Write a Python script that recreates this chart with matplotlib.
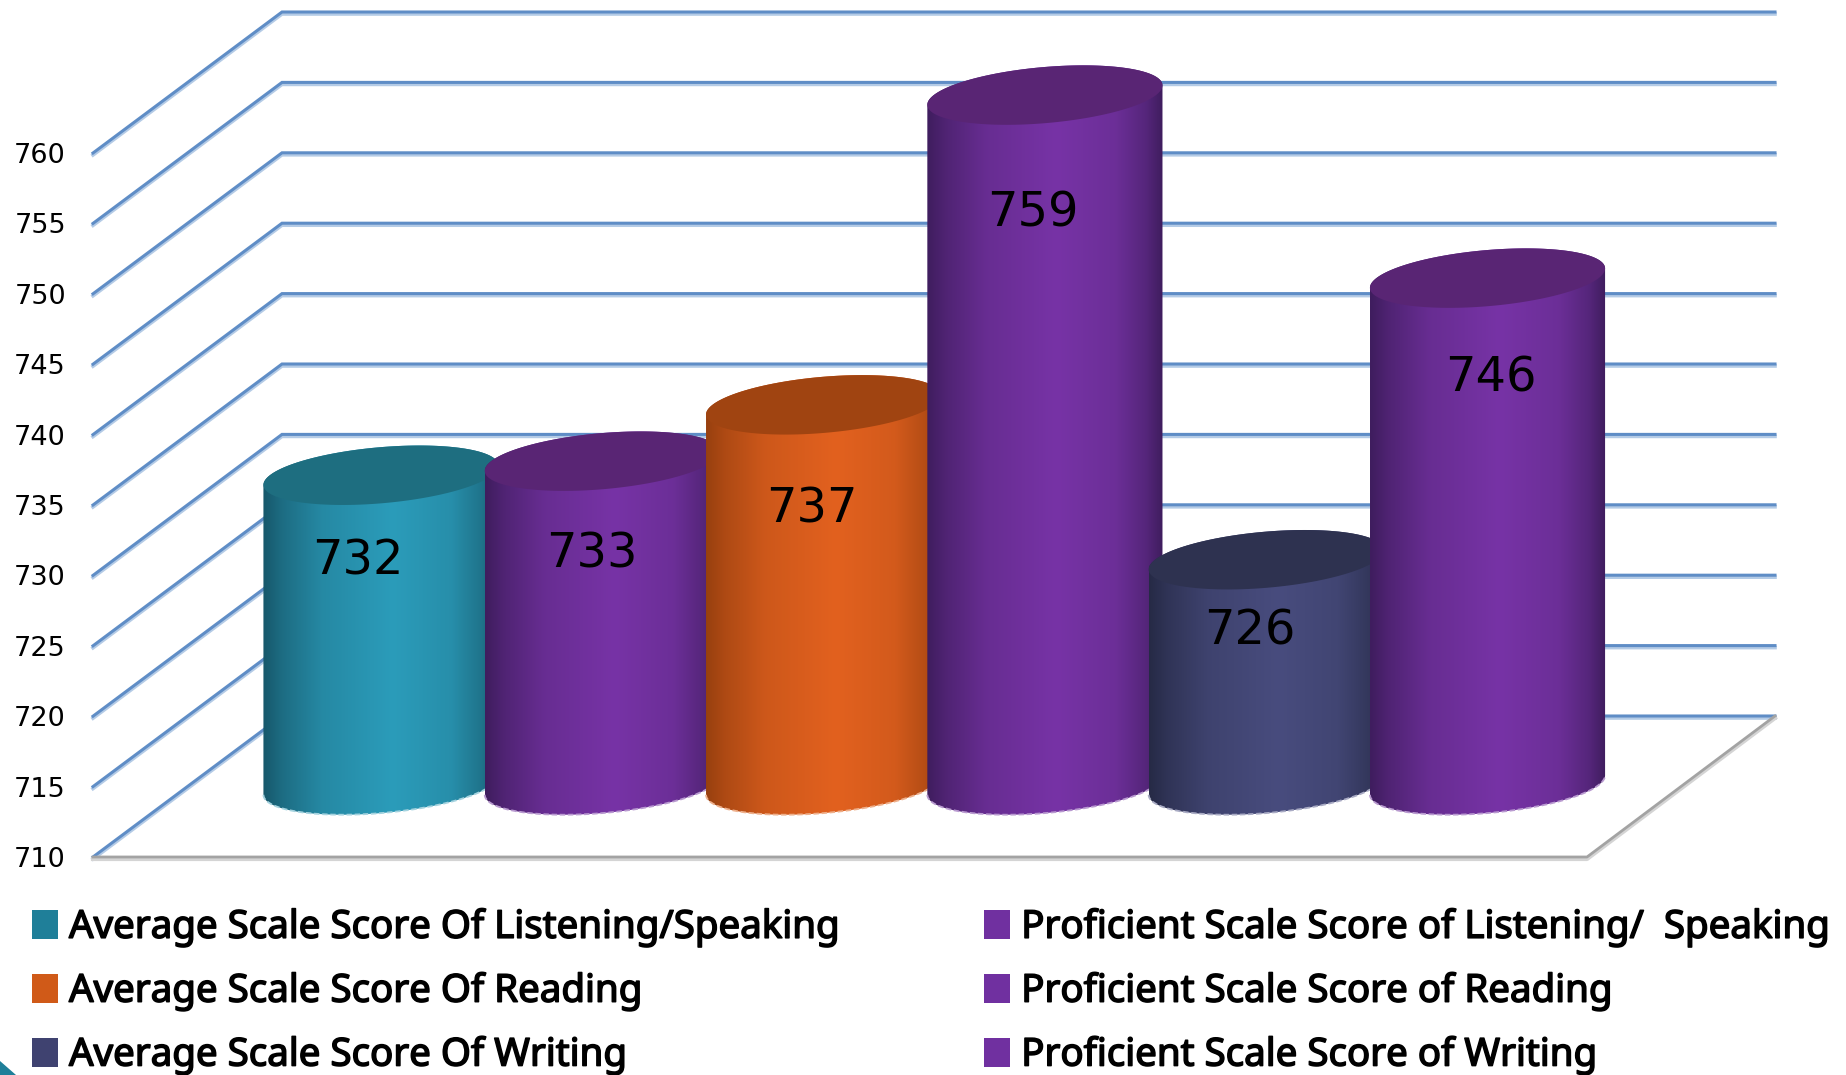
import matplotlib.pyplot as plt
import matplotlib.patheffects as pe
import numpy as np
from matplotlib.colors import to_rgb
from matplotlib.patches import Patch, Polygon

# data
labels = ['Average Scale Score Of Listening/Speaking',
          'Proficient Scale Score of Listening/  Speaking',
          'Average Scale Score Of Reading',
          'Proficient Scale Score of Reading',
          'Average Scale Score Of Writing',
          'Proficient Scale Score of Writing']
values = [732, 733, 737, 759, 726, 746]
y_ticks = [710, 715, 720, 725, 730, 735, 740, 745, 750, 755, 760]

# colours for each cylinder
dark = ['#17586b', '#3f1d5e', '#98400f', '#3f1d5e', '#262a46', '#3f1d5e']
light = ['#2b9cba', '#7733a6', '#e2611f', '#7733a6', '#484c7e', '#7733a6']
top = ['#1e6e80', '#592574', '#a04411', '#592574', '#2e3250', '#592574']
rim = ['#a5d3df', '#b99ad0', '#eeb08c', '#b99ad0', '#a9abc4', '#b99ad0']
swatch = ['#1f7f99', '#7030a0', '#d05a18', '#7030a0', '#3f4270', '#7030a0']

# label shift from the top of each cylinder, in pixels
label_dx = [-23, -10, -12, -12, -16, 3]
label_dy = [-86, -93, -104, -118, -71, -100]

W, H = 1846, 1075
PX_CAT = 221.3     # pixels between cylinders
PX_VAL = 14.08     # pixels for one score point
X0 = 381           # pixel x of first cylinder
Y710 = 785         # pixel y of 710 at the cylinder base
A, B, ROT = 118, 28, np.radians(5)

plt.rcParams['font.family'] = ['Noto Sans', 'DejaVu Sans']

fig = plt.figure(figsize=(W / 100, H / 100), dpi=100)
ax = fig.add_axes([0, 0, 1, 1])
ax.set_xlim(-X0 / PX_CAT, (W - X0) / PX_CAT)
ax.set_ylim(710 - (H - Y710) / PX_VAL, 710 + Y710 / PX_VAL)
ax.axis('off')

# 3d frame, offsets in data units
front_dy = -72 / PX_VAL
back_dy = 69 / PX_VAL
left_front = (93 - X0) / PX_CAT
left_back = (282 - X0) / PX_CAT
right_front = (1587 - X0) / PX_CAT
right_back = (1775 - X0) / PX_CAT

for v in y_ticks:
    xs = [left_front, left_back, right_back]
    ys = [v + front_dy, v + back_dy, v + back_dy]
    ax.plot(xs, [y - 2 / PX_VAL for y in ys], color='#b4cbe6', lw=2.6, zorder=1,
            solid_joinstyle='miter')
    ax.plot(xs, ys, color='#5f8dc6', lw=2.2, zorder=1.1, solid_joinstyle='miter')

# floor
floor_x = [left_front, right_front, right_back]
floor_y = [710 + front_dy, 710 + front_dy, 710 + back_dy]
ax.plot(floor_x, [y - 2 / PX_VAL for y in floor_y], color='#d4d4d4', lw=3, zorder=1.2)
ax.plot(floor_x, floor_y, color='#a3a3a3', lw=2, zorder=1.3)


def ellipse(cx, cy):
    t = np.linspace(0, 2 * np.pi, 361)
    x = (A * np.cos(t) * np.cos(ROT) - B * np.sin(t) * np.sin(ROT)) / PX_CAT
    y = (A * np.cos(t) * np.sin(ROT) + B * np.sin(t) * np.cos(ROT)) / PX_VAL
    return cx + x, cy + y


def lower_arc(cx, cy):
    x, y = ellipse(cx, cy)
    x, y = x[:-1], y[:-1]
    i_r, i_l = np.argmax(x), np.argmin(x)
    idx = np.arange(i_l, i_l + 360) % 360
    n = (i_r - i_l) % 360
    idx = idx[:n + 1]
    if y[idx].mean() > cy:
        idx = (i_l - np.arange(0, (i_l - i_r) % 360 + 1)) % 360
    return x[idx], y[idx]


for i, v in enumerate(values):
    bx, by = lower_arc(i, 710)
    tx, ty = lower_arc(i, v)
    # top arc: mirror of the lower arc through the ellipse centre
    tx2 = i + (i - tx)
    ty2 = v + (v - ty)
    px = np.concatenate([bx, tx2])
    py = np.concatenate([by, ty2])
    z = 2 + i
    body = Polygon(np.column_stack([px, py]), closed=True, fc='none', ec='none',
                   transform=ax.transData, zorder=z)
    ax.add_patch(body)

    d, l = np.array(to_rgb(dark[i])), np.array(to_rgb(light[i]))
    pos = np.linspace(0, 1, 256)
    mix = np.interp(pos, [0, 0.08, 0.25, 0.55, 0.8, 0.93, 1],
                    [0, 0.3, 0.72, 1, 0.8, 0.4, 0])
    grad = (d[None, :] * (1 - mix[:, None]) + l[None, :] * mix[:, None])[None, :, :]
    im = ax.imshow(grad, extent=[px.min(), px.max(), py.min(), py.max()], aspect='auto',
                   zorder=z, interpolation='bilinear')
    im.set_clip_path(body)

    ax.plot(bx, by, color=rim[i], lw=1.3, ls=(0, (3, 1.5)), zorder=z)

    ex, ey = ellipse(i, v)
    ax.fill(ex, ey, color=top[i], lw=0, zorder=z + 0.1)

    ax.annotate(str(v), xy=(i, v), xytext=(label_dx[i], label_dy[i]),
                textcoords='offset pixels', ha='center', va='center',
                fontsize=34.5, family='DejaVu Sans', color='black', zorder=20)

# corner of the slide decoration
ax.add_patch(Polygon(np.column_stack([(np.array([0, 16, 0]) - X0) / PX_CAT,
                                      710 - (np.array([1061, 1075, 1075]) - Y710) / PX_VAL]),
                     closed=True, fc='#1f7f99', ec='none', zorder=1))

ax.set_xlim(-X0 / PX_CAT, (W - X0) / PX_CAT)
ax.set_ylim(710 - (H - Y710) / PX_VAL, 710 + Y710 / PX_VAL)

# y axis sits on the front edge
ax_y = fig.add_axes([93 / W, (H - 857) / H, 1 / W, 704 / H])
ax_y.set_ylim(710, 760)
ax_y.set_yticks(y_ticks)
ax_y.set_xticks([])
ax_y.tick_params(axis='y', length=0, pad=19.5, labelsize=19.5, labelcolor='black')
for t in ax_y.get_yticklabels():
    t.set_family('DejaVu Sans')
ax_y.patch.set_visible(False)
for s in ax_y.spines.values():
    s.set_visible(False)

# legend: left column average, right column proficient
order = [0, 2, 4, 1, 3, 5]
handles = [Patch(fc=swatch[k], ec='none', label=labels[k]) for k in order]
leg = fig.legend(handles=handles, ncol=2, frameon=False, fontsize=27.7,
                 loc='upper left', bbox_to_anchor=(32 / W, 1 - 908 / H),
                 borderaxespad=0, borderpad=0, handlelength=0.675, handleheight=0.8,
                 handletextpad=0.286, labelspacing=0.652, columnspacing=3.74)
# this Noto Sans has no bold face here, so thicken with a thin stroke
for t in leg.get_texts():
    t.set_path_effects([pe.withStroke(linewidth=1.1, foreground='black')])

fig.savefig('out.png', dpi=100)
